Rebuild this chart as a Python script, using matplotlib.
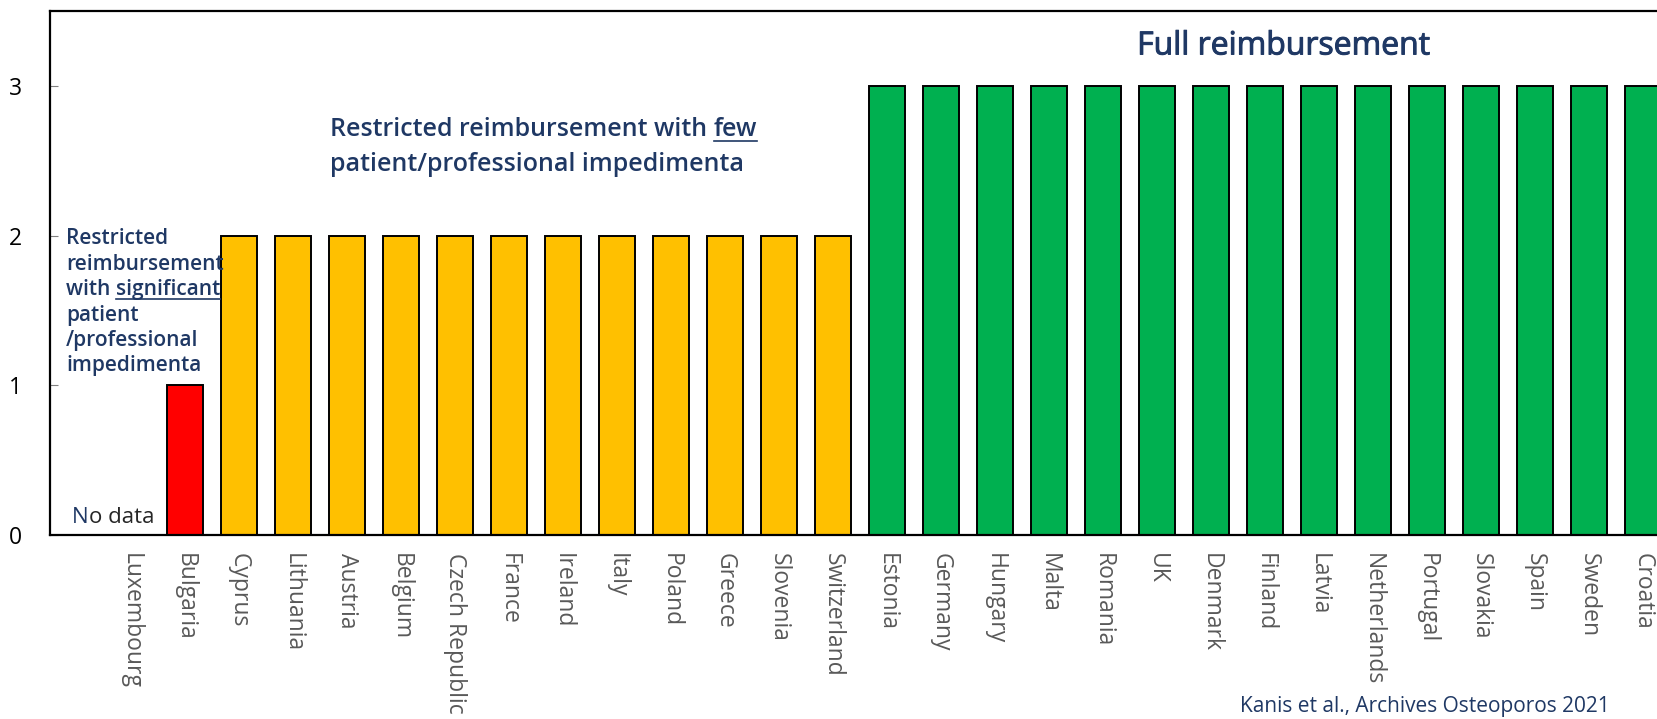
import numpy as np
import matplotlib.pyplot as plt
import matplotlib.patheffects as pe
from matplotlib.lines import Line2D

plt.rcParams['font.family'] = ['Open Sans', 'DejaVu Sans']

# Reimbursement level per country (0 = no data)
countries = ['Luxembourg', 'Bulgaria', 'Cyprus', 'Lithuania', 'Austria', 'Belgium',
             'Czech Republic', 'France', 'Ireland', 'Italy', 'Poland', 'Greece',
             'Slovenia', 'Switzerland', 'Estonia', 'Germany', 'Hungary', 'Malta',
             'Romania', 'UK', 'Denmark', 'Finland', 'Latvia', 'Netherlands',
             'Portugal', 'Slovakia', 'Spain', 'Sweden', 'Croatia']
levels = [0, 1, 2, 2, 2, 2, 2, 2, 2, 2, 2, 2, 2, 2,
          3, 3, 3, 3, 3, 3, 3, 3, 3, 3, 3, 3, 3, 3, 3]
level_colors = {0: 'white', 1: '#FF0000', 2: '#FFC000', 3: '#00B050'}
yticks = [0, 1, 2, 3]

navy = '#1F3864'
W, H = 1658, 719
fig = plt.figure(figsize=(W / 100, H / 100), dpi=100)

# the plot area runs past the right edge of the figure
x0_px, x1_px, y0_px, y1_px = 50, 1670, 535, 11
ax = fig.add_axes([x0_px / W, 1 - y0_px / H, (x1_px - x0_px) / W, (y0_px - y1_px) / H])

x = np.arange(len(countries))
colors = [level_colors[v] for v in levels]
ax.bar(x, levels, width=0.667, color=colors, edgecolor='black', linewidth=1.4, zorder=2)

ax.set_xlim(-1.5, len(countries) - 0.5)
ax.set_ylim(0, 3.5)
ax.set_yticks(yticks)
ax.set_xticks(x)
ax.set_xticklabels(countries, rotation=270, color='#595959', fontsize=16.5,
                   ha='center', va='top')
ax.tick_params(axis='x', length=0, pad=13)
ax.tick_params(axis='y', direction='in', length=6, color='#808080', labelsize=16.5,
               pad=20, labelcolor='black')
for side in ['left', 'bottom', 'top']:
    ax.spines[side].set_linewidth(1.6)
    ax.spines[side].set_color('black')
ax.spines['right'].set_visible(False)


def px2data(px, py):
    return (px - 131) / 54, (y0_px - py) / 149.7


# group headings
ax.text(*px2data(1284, 46), 'Full reimbursement', color=navy, fontsize=23,
        ha='center', va='center',
        path_effects=[pe.withStroke(linewidth=0.7, foreground=navy)])

underline = []
t = ax.text(*px2data(330, 130), 'Restricted reimbursement with ', color=navy,
            fontsize=18, fontweight='semibold', ha='left', va='center')
few = ax.annotate('few', xy=(1, 0.5), xycoords=t, color=navy, fontsize=18,
                  fontweight='semibold', ha='left', va='center')
underline.append(few)
ax.text(*px2data(330, 165), 'patient/professional impedimenta', color=navy,
        fontsize=18, fontweight='semibold', ha='left', va='center')

left_lines = ['Restricted', 'reimbursement', 'with ', 'patient', '/professional', 'impedimenta']
for i, line in enumerate(left_lines):
    t = ax.text(*px2data(66, 239 + i * 25.4), line, color=navy, fontsize=15,
                fontweight='semibold', ha='left', va='center')
    if line == 'with ':
        sig = ax.annotate('significant', xy=(1, 0.5), xycoords=t, color=navy,
                          fontsize=15, fontweight='semibold', ha='left', va='center')
        underline.append(sig)

n = ax.text(*px2data(72, 518), 'N', color=navy, fontsize=16, ha='left', va='center')
ax.annotate('o data', xy=(1, 0.5), xycoords=n, color='#262626', fontsize=16,
            ha='left', va='center')

fig.text(1425 / W, 2 / H, 'Kanis et al., Archives Osteoporos 2021', color=navy,
         fontsize=15, ha='center', va='bottom')

# underline the emphasised words
fig.canvas.draw()
renderer = fig.canvas.get_renderer()
for art in underline:
    bb = art.get_window_extent(renderer)
    yline = bb.y0 + 1
    fig.add_artist(Line2D([bb.x0 / W, bb.x1 / W], [yline / H, yline / H],
                          color=navy, linewidth=1.2))

fig.savefig('out.png', dpi=100)
